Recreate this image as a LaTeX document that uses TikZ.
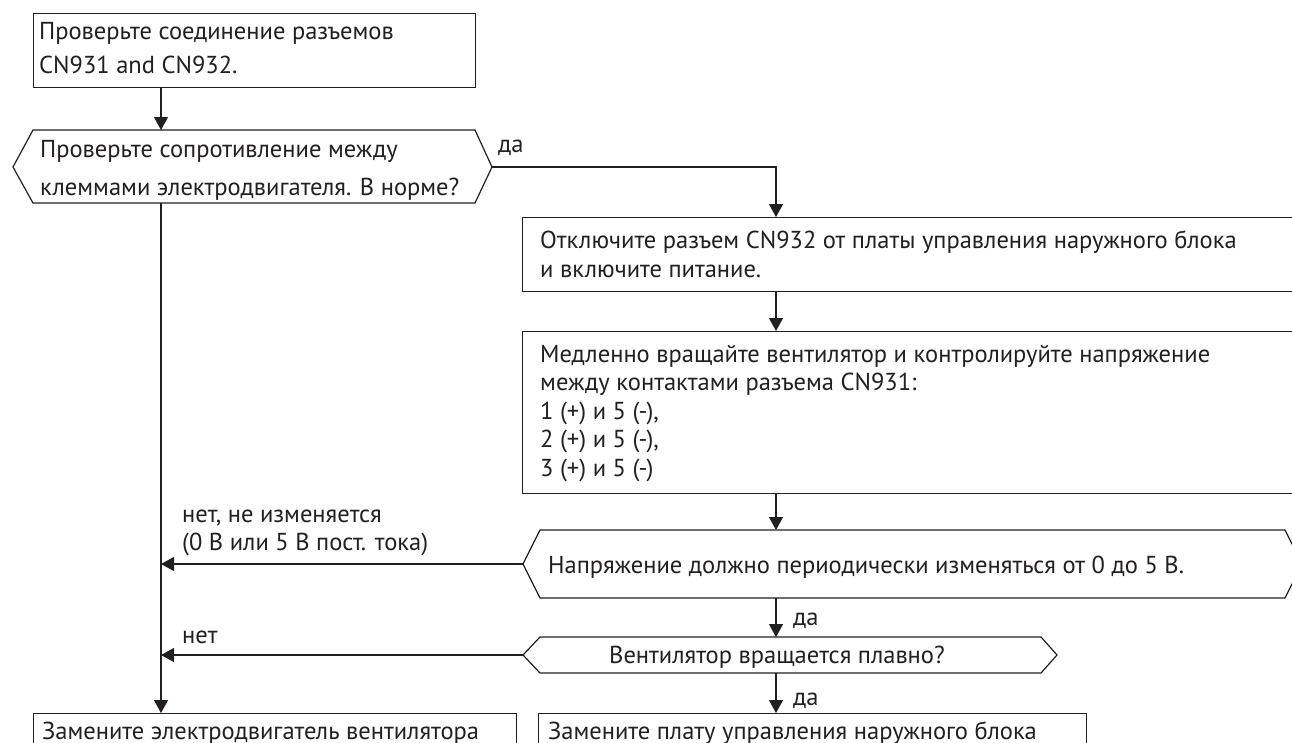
\documentclass[tikz,border=0pt]{standalone}
\usepackage{fontspec}
\setmainfont{PT Sans}
\usetikzlibrary{arrows.meta}
\newlength\refw
\definecolor{ink}{HTML}{231F20}
\begin{document}
\settowidth\refw{\fontsize{20pt}{24pt}\selectfont Медленно вращайте вентилятор и контролируйте напряжение}%
\pgfmathsetmacro\fs{20*670/\refw}%
\begin{tikzpicture}[x=1pt,y=-1pt]
\tikzset{
  txt/.style={inner sep=0pt, anchor=base west, text=ink, font=\fontsize{\fs pt}{\fs pt}\selectfont},
  box/.style={draw=ink, line width=1.2pt, rectangle, inner sep=0pt, anchor=north west},
  hexa/.style={draw=ink, line width=1.2pt, line join=miter},
  arr/.style={draw=ink, line width=1.2pt, -{Triangle[length=13pt,width=14pt]}},
  plain/.style={draw=ink, line width=1.2pt}
}
\useasboundingbox (0,0) rectangle (1292,742);
\fill[white] (0,0) rectangle (1292,742);
\clip (0,0) rectangle (1292,742);
% axes for connectors
\coordinate (axL) at (161,0);
\coordinate (axR) at (776,0);
% boxes
\node[box, minimum width=442pt, minimum height=74pt] (b1) at (33,13) {};
\node[box, minimum width=800pt, minimum height=74pt] (b2) at (522,217) {};
\node[box, minimum width=800pt, minimum height=162pt] (b3) at (522,331) {};
\node[box, minimum width=483pt, minimum height=60pt] (b4) at (33,713) {};
\node[box, minimum width=548pt, minimum height=60pt] (b5) at (538,713) {};
% hexagons
\coordinate (h1w) at (13,167);
\coordinate (h1e) at (492,167);
\coordinate (h1n) at (161,130);
\coordinate (h1s) at (161,203);
\path[hexa] (h1w) -- (33,130) -- (475,130) -- (h1e) -- (475,203) -- (33,203) -- cycle;
\coordinate (h2w) at (523,564);
\coordinate (h2n) at (776,530);
\coordinate (h2s) at (776,598);
\path[hexa] (h2w) -- (540,530) -- (1285,530) -- (1302,564) -- (1285,598) -- (540,598) -- cycle;
\coordinate (h3w) at (523,655);
\coordinate (h3n) at (776,637);
\coordinate (h3s) at (776,673);
\path[hexa] (h3w) -- (540,637) -- (1041,637) -- (1057,655) -- (1041,673) -- (540,673) -- cycle;
% texts
\node[txt] (t1a) at (39,39) {Проверьте соединение разъемов};
\node[txt] (t1b) at (39,73) {CN931 and CN932.};
\node[txt] (t2a) at (40,157) {Проверьте сопротивление между};
\node[txt] (t2b) at (40,195) {клеммами электродвигателя. В норме?};
\node[txt] (t3a) at (540,248) {Отключите разъем CN932 от платы управления наружного блока};
\node[txt] (t3b) at (540,277) {и включите питание.};
\node[txt] (t4a) at (540,362) {Медленно вращайте вентилятор и контролируйте напряжение};
\node[txt] (t4b) at (540,390.5) {между контактами разъема CN931:};
\node[txt] (t4c) at (540,419) {1 (+) и 5 (-),};
\node[txt] (t4d) at (540,447.5) {2 (+) и 5 (-),};
\node[txt] (t4e) at (540,476) {3 (+) и 5 (-)};
\node[txt] (t5) at (548,573) {Напряжение должно периодически изменяться от 0 до 5 В.};
\node[txt] (t6) at (609,663) {Вентилятор вращается плавно?};
\node[txt] (t7) at (42,739) {Замените электродвигатель вентилятора};
\node[txt] (t8) at (548,739) {Замените плату управления наружного блока};
% labels
\node[txt] (l1) at (498,152) {да};
\node[txt] (l2a) at (182,522) {нет, не изменяется};
\node[txt] (l2b) at (182,550) {(0 В или 5 В пост. тока)};
\node[txt] (l3) at (182,643) {нет};
\node[txt] (l4) at (793,625) {да};
\node[txt] (l5) at (793,705) {да};
% connectors
\draw[arr] (h1n |- b1.south) -- (h1n);
\draw[arr] (h1e) -- (h1e -| axR) -- (axR |- b2.north);
\draw[arr] (axR |- b2.south) -- (axR |- b3.north);
\draw[arr] (axR |- b3.south) -- (h2n);
\draw[arr] (h2s) -- (h3n);
\draw[arr] (h3s) -- (axR |- b5.north);
\draw[arr] (h1s) -- (axL |- b4.north);
\draw[arr] (h2w) -- (h2w -| axL);
\draw[arr] (h3w) -- (h3w -| axL);
\end{tikzpicture}
\end{document}
